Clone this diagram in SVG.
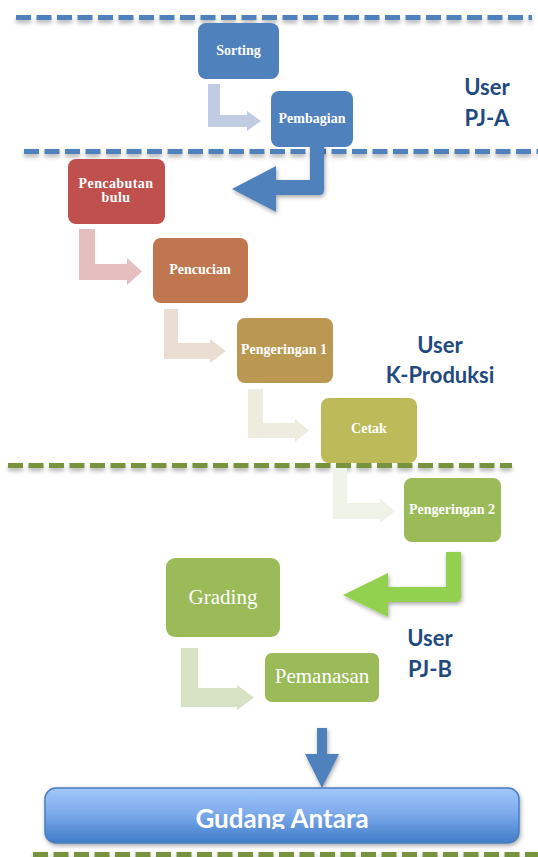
<svg xmlns="http://www.w3.org/2000/svg" width="538" height="857" viewBox="0 0 538 857">
<defs>
<style>
.box{stroke:none}
.lbl{font-family:"Liberation Serif","DejaVu Serif",serif;font-weight:bold;font-size:14px;fill:#ffffff;text-anchor:middle}
.lbl2{font-family:"Liberation Serif","DejaVu Serif",serif;font-size:21px;fill:#ffffff;text-anchor:middle}
.user{font-family:Lato,"Liberation Sans",sans-serif;font-weight:bold;font-size:22px;fill:#1f4a7e;text-anchor:middle}
.dashB{stroke:#4f81bd;stroke-width:5;stroke-dasharray:15 5.5;fill:none}
.dashG{stroke:#77933c;stroke-width:5;stroke-dasharray:15 5.5;fill:none}
</style>
<filter id="sh" x="-10%" y="-50%" width="120%" height="300%">
<feDropShadow dx="0" dy="3" stdDeviation="2" flood-color="#000" flood-opacity="0.3"/>
</filter>
<filter id="sh2" x="-20%" y="-20%" width="140%" height="140%">
<feDropShadow dx="1" dy="2" stdDeviation="2" flood-color="#000" flood-opacity="0.35"/>
</filter>
<linearGradient id="gud" x1="0" y1="0" x2="0" y2="1">
<stop offset="0" stop-color="#a2c8fb"/>
<stop offset="0.45" stop-color="#7eabeb"/>
<stop offset="1" stop-color="#3f7cca"/>
</linearGradient>
<clipPath id="clipG"><rect x="45" y="788" width="474" height="41"/></clipPath>
</defs>
<rect x="0" y="0" width="538" height="857" fill="#ffffff"/>

<g id="separators" filter="url(#sh)">
<line class="dashB" x1="16" y1="17.5" x2="532" y2="17.5"/>
<line class="dashB" x1="24" y1="151.5" x2="538" y2="151.5"/>
<line class="dashG" x1="8" y1="465.5" x2="512" y2="465.5"/>
<line class="dashG" x1="33" y1="854.5" x2="538" y2="854.5"/>
</g>

<g id="connectors">
<path d="M208,84 H220 V115 H247 V111 L261,121 L247,131 V127 H208 Z" fill="#c0cce2"/>
<path d="M79,229 H95 V264 H127 V258 L142,271.5 L127,285 V280 H79 Z" fill="#e5bfbf"/>
<path d="M164,309 H178 V343 H210 V339 L226,351 L210,363 V359 H164 Z" fill="#eaded2"/>
<path d="M248,389 H263 V423 H295 V419 L309,430.5 L295,442 V438 H248 Z" fill="#eeecde"/>
<path d="M333,468 H347 V503 H380 V499 L395,511 L380,523 V519 H333 Z" fill="#eef2e7"/>
<path d="M181,648 H198 V688 H237 V685 L254,697.5 L237,710 V707 H181 Z" fill="#d7e2c4"/>
<path d="M310,140 H324 V190 Q324,195 319,195 H276 V212 L232,189 L276,166 V180 H310 Z" fill="#4f81bd" filter="url(#sh2)"/>
<path d="M446,552 H461 V597 Q461,602 456,602 H388 V617 L343,595 L388,573 V587 H446 Z" fill="#92d050" filter="url(#sh2)"/>
<path d="M317,728 H327 V754 H339 L322,788 L305,754 H317 Z" fill="#4f81bd" filter="url(#sh2)"/>
</g>

<g id="sorting">
<rect class="box" x="198" y="23" width="81" height="56" rx="8" fill="#4f81bd"/>
<text class="lbl" x="238.5" y="55">Sorting</text>
</g>
<g id="pembagian">
<rect class="box" x="271" y="91" width="82" height="56" rx="8" fill="#4f81bd"/>
<text class="lbl" x="312" y="123">Pembagian</text>
</g>
<g id="pencabutan">
<rect class="box" x="68" y="159" width="97" height="65" rx="8" fill="#c0504d"/>
<text class="lbl" x="116" y="188" letter-spacing="0.4">Pencabutan</text>
<text class="lbl" x="116" y="202" letter-spacing="0.4">bulu</text>
</g>
<g id="pencucian">
<rect class="box" x="153" y="238" width="95" height="65" rx="8" fill="#c0774f"/>
<text class="lbl" x="200" y="274">Pencucian</text>
</g>
<g id="pengeringan1">
<rect class="box" x="237" y="318" width="96" height="65" rx="8" fill="#bb9852"/>
<text class="lbl" x="284" y="354">Pengeringan 1</text>
</g>
<g id="cetak">
<rect class="box" x="321" y="398" width="96" height="65" rx="8" fill="#bdbb59"/>
<text class="lbl" x="369" y="433">Cetak</text>
</g>
<g id="pengeringan2">
<rect class="box" x="404" y="478" width="97" height="64" rx="8" fill="#9bbb59"/>
<text class="lbl" x="452" y="514">Pengeringan 2</text>
</g>
<g id="grading">
<rect class="box" x="166" y="558" width="114" height="79" rx="9" fill="#9bbb59"/>
<text class="lbl2" x="223" y="604">Grading</text>
</g>
<g id="pemanasan">
<rect class="box" x="265" y="653" width="114" height="49" rx="7" fill="#9bbb59"/>
<text class="lbl2" x="322" y="683">Pemanasan</text>
</g>
<g id="gudang-antara">
<rect x="45" y="788" width="474" height="55" rx="11" fill="url(#gud)" stroke="#4a7ebb" stroke-width="1.5" filter="url(#sh2)"/>
<text clip-path="url(#clipG)" x="282" y="828" font-family="Lato,'Liberation Sans',sans-serif" font-weight="bold" font-size="26" fill="#ffffff" text-anchor="middle">Gudang Antara</text>
</g>

<g id="lane-labels">
<text class="user" x="487" y="95">User</text>
<text class="user" x="487" y="126">PJ-A</text>
<text class="user" x="440" y="353">User</text>
<text class="user" x="440" y="383">K-Produksi</text>
<text class="user" x="430" y="646">User</text>
<text class="user" x="430" y="677">PJ-B</text>
</g>
</svg>
